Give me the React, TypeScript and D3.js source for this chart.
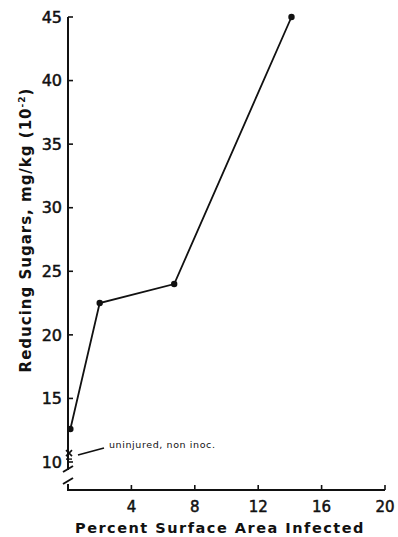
import React from "react";
import * as d3 from "d3";

const xValues = [0.15, 2.0, 6.7, 14.1];
const yValues = [12.6, 22.5, 24.0, 45.0];
const controlX = 0;
const controlY = 10.7;
const controlLabel = "uninjured, non inoc.";
const xTicks = [4, 8, 12, 16, 20];
const yTicks = [10, 15, 20, 25, 30, 35, 40, 45];
const xTitle = "Percent Surface Area Infected";

export default function App() {
  const W = 398, H = 537;
  const x = d3.scaleLinear().domain([0, 20]).range([68, 385]);
  const y = d3.scaleLinear().domain([10, 45]).range([462, 17]);
  const axisY = 490;
  const pts = xValues.map((v, i) => [x(v), y(yValues[i])] as [number, number]);
  const line = d3.line()(pts) || "";
  const font = "'DejaVu Sans', sans-serif";
  const x0 = x(0);
  const cx = x(controlX) + 1, cy = y(controlY);
  return (
    <svg width={W} height={H} style={{ position: "absolute", left: 0, top: 0, background: "#fff" }}>
      {/* y axis with break */}
      <line x1={x0} y1={y(45)} x2={x0} y2={470} stroke="#111" strokeWidth={2} />
      <line x1={x0} y1={484} x2={x0} y2={axisY} stroke="#111" strokeWidth={2} />
      <line x1={x0 - 5} y1={472} x2={x0 + 5} y2={466} stroke="#111" strokeWidth={2} />
      <line x1={x0 - 5} y1={484} x2={x0 + 5} y2={478} stroke="#111" strokeWidth={2} />
      {/* x axis */}
      <line x1={x0 - 1} y1={axisY} x2={x(20)} y2={axisY} stroke="#111" strokeWidth={2} />
      {yTicks.map(t => (
        <g key={"y" + t}>
          <line x1={x0} x2={x0 + 5} y1={y(t)} y2={y(t)} stroke="#111" strokeWidth={1.6} />
          <text x={x0 - 6} y={y(t)} dy="0.36em" textAnchor="end" fontFamily={font} fontSize={16} fill="#111" stroke="#111" strokeWidth={0.5}>{t}</text>
        </g>
      ))}
      {xTicks.map(t => (
        <g key={"x" + t}>
          <line x1={x(t)} x2={x(t)} y1={axisY} y2={axisY - 5} stroke="#111" strokeWidth={1.6} />
          <text x={x(t)} y={512} textAnchor="middle" fontFamily={font} fontSize={15} fill="#111" stroke="#111" strokeWidth={0.5}>{t}</text>
        </g>
      ))}
      <text x={220} y={533} textAnchor="middle" fontFamily={font} fontSize={14.5} fontWeight="bold" letterSpacing={1.5} fill="#111">{xTitle}</text>
      <text transform="translate(31,230) rotate(-90)" textAnchor="middle" fontFamily={font} fontSize={15} fontWeight="bold" letterSpacing={1} fill="#111">
        Reducing Sugars, mg/kg (10<tspan dy={-6} fontSize={9}>-2</tspan><tspan dy={6}>)</tspan>
      </text>
      {/* data */}
      <path d={line} fill="none" stroke="#111" strokeWidth={1.8} />
      {pts.map((p, i) => <circle key={i} cx={p[0]} cy={p[1]} r={3.2} fill="#111" />)}
      {/* control marker */}
      <line x1={cx - 3} y1={cy - 3} x2={cx + 3} y2={cy + 3} stroke="#111" strokeWidth={1.6} />
      <line x1={cx - 3} y1={cy + 3} x2={cx + 3} y2={cy - 3} stroke="#111" strokeWidth={1.6} />
      <line x1={cx - 3} y1={cy + 6} x2={cx + 3} y2={cy + 6} stroke="#111" strokeWidth={1.4} />
      <line x1={78} y1={455} x2={104} y2={448} stroke="#111" strokeWidth={1.8} />
      <text x={109} y={448} fontFamily={font} fontSize={9.5} fill="#111" letterSpacing={0.6}>{controlLabel}</text>
    </svg>
  );
}
